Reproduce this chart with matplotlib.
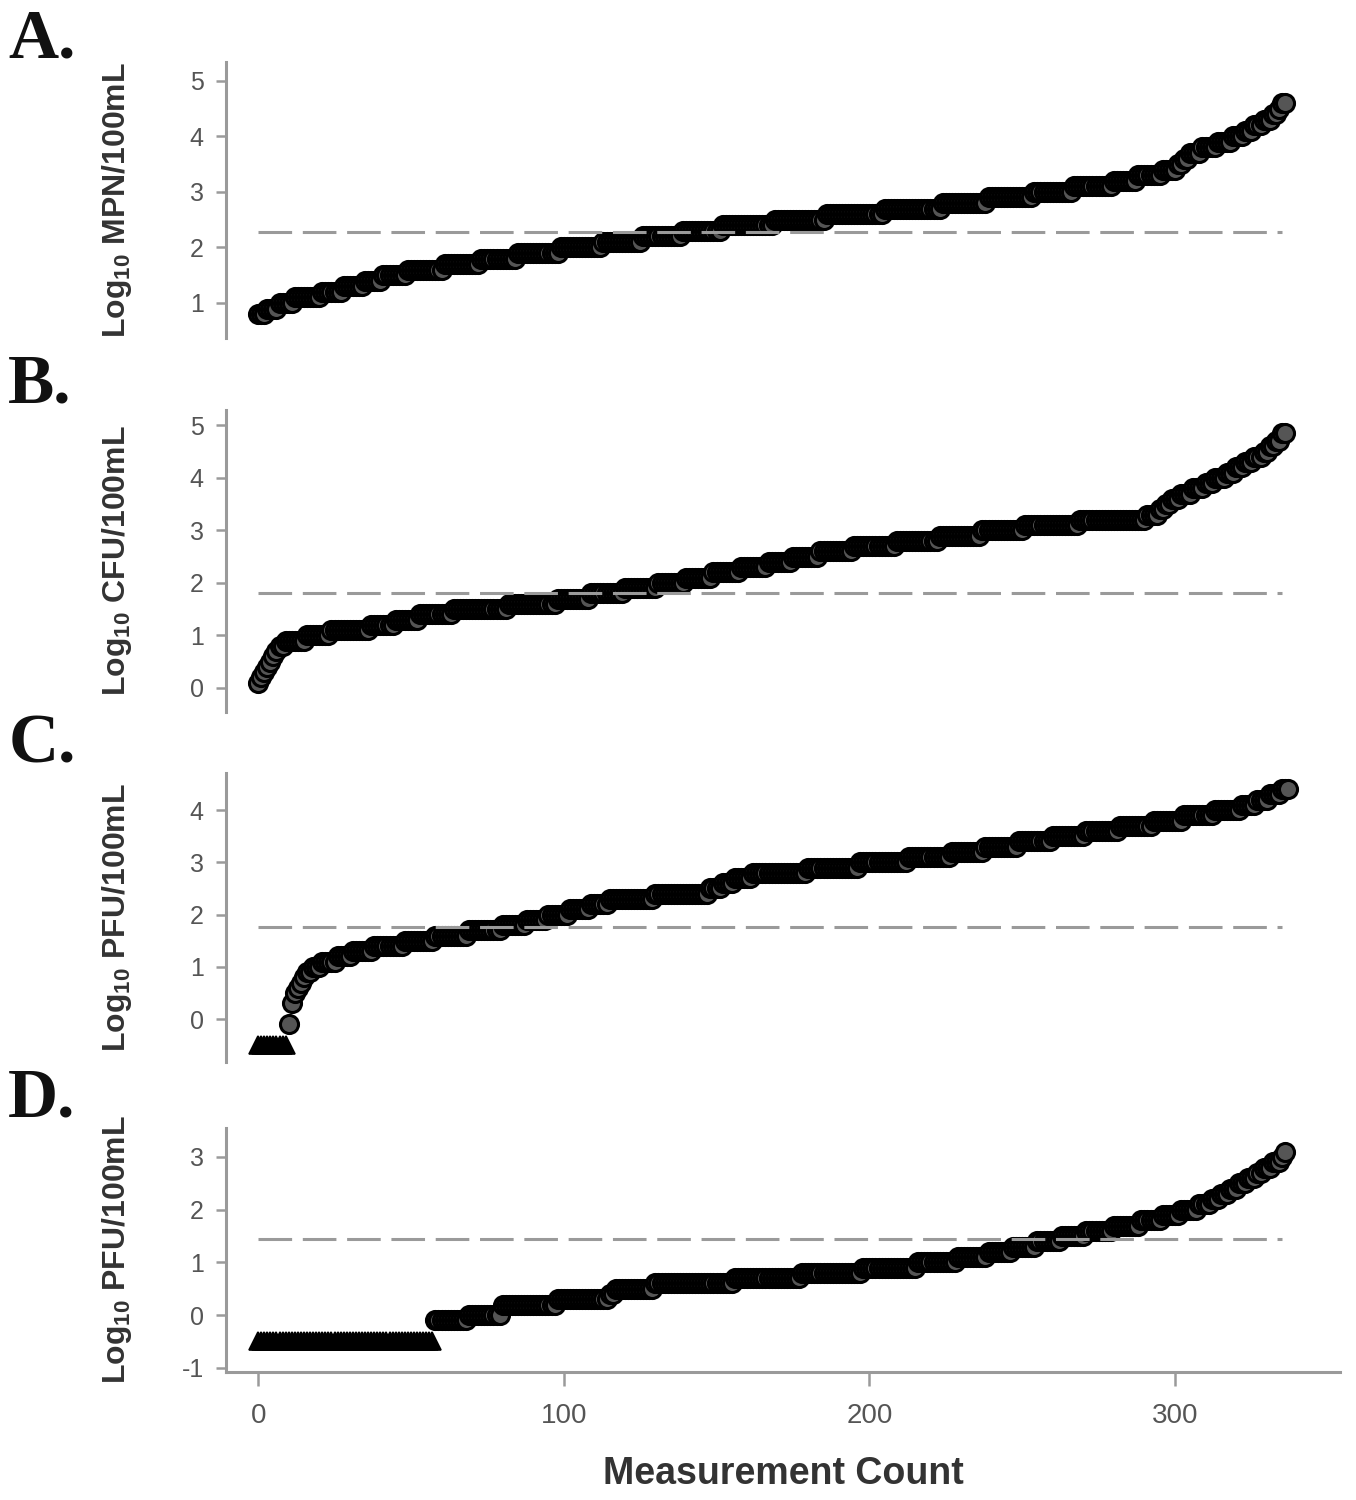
import numpy as np
import matplotlib
matplotlib.use('Agg')
import matplotlib.pyplot as plt

# A. coliformes (MPN): niveles log10 y cuantas mediciones caen en cada nivel
a_niveles = [0.8, 0.9, 1.0, 1.1, 1.2, 1.3, 1.4, 1.5, 1.6, 1.7, 1.8, 1.9, 2.0,
             2.1, 2.2, 2.3, 2.4, 2.5, 2.6, 2.7, 2.8, 2.9, 3.0, 3.1, 3.2, 3.3,
             3.4, 3.5, 3.6, 3.7, 3.8, 3.9, 4.0, 4.1, 4.2, 4.3, 4.4, 4.5, 4.6]
a_cuenta = [3, 4, 5, 9, 7, 7, 6, 8, 12, 12, 12, 14, 14,
            13, 13, 13, 17, 17, 19, 19, 15, 15, 13, 13, 8, 8,
            5, 2, 2, 4, 5, 5, 4, 3, 3, 3, 2, 1, 2]
a_limite = 2.28

# B. CFU
b_niveles = [0.1, 0.2, 0.3, 0.4, 0.5, 0.6, 0.7, 0.8, 0.9, 1.0, 1.1, 1.2,
             1.3, 1.4, 1.5, 1.6, 1.7, 1.8, 1.9, 2.0, 2.1, 2.2, 2.3, 2.4,
             2.5, 2.6, 2.7, 2.8, 2.9, 3.0, 3.1, 3.2, 3.3, 3.4, 3.5, 3.6,
             3.7, 3.8, 3.9, 4.0, 4.1, 4.2, 4.3, 4.4, 4.5, 4.6, 4.7, 4.85]
b_cuenta = [1, 1, 1, 1, 1, 1, 1, 2, 7, 8, 13, 8,
            8, 11, 18, 16, 11, 11, 11, 9, 9, 9, 9, 8,
            9, 11, 14, 14, 14, 14, 18, 22, 4, 2, 2, 3,
            4, 4, 3, 4, 3, 3, 3, 3, 2, 2, 2, 2]
b_limite = 1.8

# C. PFU, con valores bajo el limite de deteccion (triangulos)
c_nd_valor = -0.5
c_nd_cuenta = 10
c_niveles = [-0.1, 0.3, 0.5, 0.6, 0.7, 0.8, 0.9, 1.0, 1.1, 1.2, 1.3, 1.4,
             1.5, 1.6, 1.7, 1.8, 1.9, 2.0, 2.1, 2.2, 2.3, 2.4, 2.5, 2.6,
             2.7, 2.8, 2.9, 3.0, 3.1, 3.2, 3.3, 3.4, 3.5, 3.6, 3.7, 3.8,
             3.9, 4.0, 4.1, 4.2, 4.3, 4.4]
c_cuenta = [1, 1, 1, 1, 1, 1, 2, 3, 5, 5, 7, 10,
            10, 11, 11, 8, 7, 7, 7, 6, 15, 18, 4, 4,
            6, 18, 17, 16, 14, 11, 11, 11, 11, 11, 11, 10,
            10, 9, 5, 4, 4, 3]
c_limite = 1.77

# D. PFU
d_nd_valor = -0.5
d_nd_cuenta = 58
d_niveles = [-0.1, 0.0, 0.2, 0.3, 0.4, 0.5, 0.6, 0.7, 0.8, 0.9, 1.0, 1.1,
             1.2, 1.3, 1.4, 1.5, 1.6, 1.7, 1.8, 1.9, 2.0, 2.1, 2.2, 2.3,
             2.4, 2.5, 2.6, 2.7, 2.8, 2.9, 3.0, 3.1]
d_cuenta = [11, 11, 18, 17, 2, 13, 26, 22, 20, 18, 13, 10,
            8, 8, 8, 8, 9, 9, 7, 6, 6, 4, 3, 3,
            3, 3, 3, 2, 3, 3, 1, 1]
d_limite = 1.44

etiquetas_y = ['Log$_{10}$ MPN/100mL', 'Log$_{10}$ CFU/100mL',
               'Log$_{10}$ PFU/100mL', 'Log$_{10}$ PFU/100mL']
letras = ['A.', 'B.', 'C.', 'D.']

plt.rcParams['font.family'] = ['Liberation Sans', 'DejaVu Sans']
plt.rcParams['mathtext.default'] = 'regular'
plt.rcParams['axes.unicode_minus'] = False

gris = '#9a9a9a'
txt = '#555555'

fig = plt.figure(figsize=(13.56, 15), dpi=100)

# posiciones de cada panel (izq, abajo, ancho, alto)
cajas = [[0.1667, 0.7747, 0.8215, 0.1840],
         [0.1667, 0.5253, 0.8215, 0.2013],
         [0.1667, 0.2920, 0.8215, 0.1927],
         [0.1667, 0.0853, 0.8215, 0.1627]]
limites_y = [(0.37, 5.34), (-0.46, 5.29), (-0.82, 4.71), (-1.08, 3.55)]
ticks_y = [[1, 2, 3, 4, 5], [0, 1, 2, 3, 4, 5], [0, 1, 2, 3, 4], [-1, 0, 1, 2, 3]]
letra_y = [0.027, 0.257, 0.497, 0.733]

datos = [
    (a_niveles, a_cuenta, 0, None, a_limite),
    (b_niveles, b_cuenta, 0, None, b_limite),
    (c_niveles, c_cuenta, c_nd_cuenta, c_nd_valor, c_limite),
    (d_niveles, d_cuenta, d_nd_cuenta, d_nd_valor, d_limite),
]

for i, (niv, cnt, nnd, vnd, lim) in enumerate(datos):
    ax = fig.add_axes(cajas[i])
    y = np.repeat(niv, cnt)
    x0 = nnd
    if nnd > 0:
        ax.plot(np.arange(nnd), np.full(nnd, vnd), ls='none', marker='^',
                ms=13, mfc='black', mec='black', mew=1.2, zorder=3)
    ax.plot(np.arange(x0, x0 + len(y)), y, ls='none', marker='o', ms=13,
            mfc='#555555', mec='black', mew=2.2, zorder=3)
    ax.plot([0, 335], [lim, lim], color=gris, lw=2.2,
            ls=(0, (11, 3.5)), zorder=4)

    ax.set_xlim(-10.5, 354)
    ax.set_ylim(*limites_y[i])
    ax.set_yticks(ticks_y[i])
    for s in ['top', 'right']:
        ax.spines[s].set_visible(False)
    ax.spines['left'].set_color(gris)
    ax.spines['left'].set_linewidth(2.2)
    ax.tick_params(axis='y', colors=gris, length=7, width=1.8, pad=9,
                   labelsize=18, labelcolor=txt)
    if i < 3:
        ax.spines['bottom'].set_visible(False)
        ax.set_xticks([])
    else:
        ax.spines['bottom'].set_color(gris)
        ax.spines['bottom'].set_linewidth(2.2)
        ax.set_xticks([0, 100, 200, 300])
        ax.tick_params(axis='x', colors=gris, length=10, width=1.8, pad=12,
                       labelsize=20, labelcolor=txt)
        ax.set_xlabel('Measurement Count', fontsize=27, fontweight='bold',
                      color='#333333', labelpad=20)
    ax.set_ylabel(etiquetas_y[i], fontsize=23, fontweight='bold',
                  color='#333333')
    ax.yaxis.set_label_coords(-0.083, 0.5)
    fig.text(0.006, 1 - letra_y[i], letras[i], fontsize=50, fontweight='bold',
             family=['Liberation Serif', 'DejaVu Serif'], va='center',
             ha='left', color='#111111')

plt.savefig('out.png', dpi=100)
